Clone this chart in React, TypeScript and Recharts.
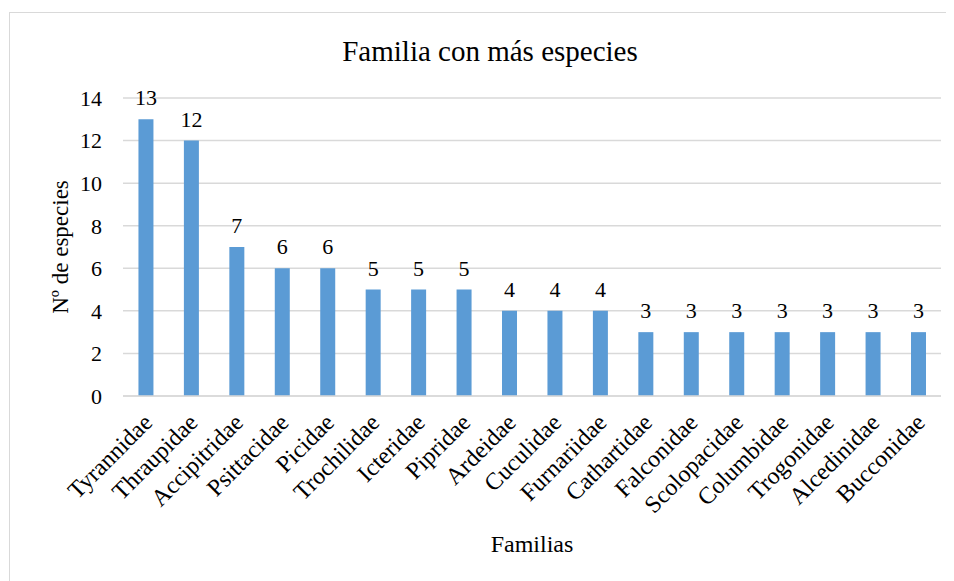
import { BarChart, Bar, XAxis, YAxis, CartesianGrid, LabelList } from "recharts";

const families = [
  "Tyrannidae",
  "Thraupidae",
  "Accipitridae",
  "Psittacidae",
  "Picidae",
  "Trochilidae",
  "Icteridae",
  "Pipridae",
  "Ardeidae",
  "Cuculidae",
  "Furnariidae",
  "Cathartidae",
  "Falconidae",
  "Scolopacidae",
  "Columbidae",
  "Trogonidae",
  "Alcedinidae",
  "Bucconidae",
];

const speciesCount = [13, 12, 7, 6, 6, 5, 5, 5, 4, 4, 4, 3, 3, 3, 3, 3, 3, 3];

const yTicks = [0, 2, 4, 6, 8, 10, 12, 14];

const data = families.map((name, i) => ({ name, value: speciesCount[i] }));

const FONT = '"Liberation Serif", "Times New Roman", serif';

function FamilyTick({ x, y, payload }: any) {
  return (
    <g transform={`translate(${x + 2},${y + 14})`}>
      <text
        x={0}
        y={0}
        dy="0.35em"
        textAnchor="end"
        transform="rotate(-45)"
        fontSize={24}
        fontFamily={FONT}
        fill="#000"
      >
        {payload.value}
      </text>
    </g>
  );
}

export default function App() {
  return (
    <div
      style={{
        position: "relative",
        marginTop: 4,
        marginLeft: 1,
        width: 944,
        height: 568,
        borderTop: "1px solid #d9d9d9",
        borderLeft: "1px solid #d9d9d9",
        fontFamily: FONT,
      }}
    >
      {/* force the serif face on every svg text recharts draws */}
      <style>{`svg text { font-family: "Liberation Serif", "Times New Roman", serif; }`}</style>
      <div
        style={{
          position: "absolute",
          left: 0,
          width: 960,
          top: 21,
          textAlign: "center",
          fontSize: 29,
          color: "#000",
          lineHeight: "34px",
        }}
      >
        Familia con más especies
      </div>
      <BarChart
        width={944}
        height={568}
        data={data}
        margin={{ top: 85, right: 13, bottom: 25, left: 0 }}
        barCategoryGap="34%"
      >
        <CartesianGrid vertical={false} stroke="#d9d9d9" strokeWidth={1.5} />
        <XAxis
          dataKey="name"
          interval={0}
          height={160}
          axisLine={{ stroke: "#d9d9d9", strokeWidth: 1.5 }}
          tickLine={false}
          tick={<FamilyTick />}
          label={{
            value: "Familias",
            position: "insideBottom",
            offset: 4,
            fontSize: 24,
            fill: "#000",
          }}
        />
        <YAxis
          width={113}
          domain={[0, 14]}
          ticks={yTicks}
          interval={0}
          axisLine={false}
          tickLine={false}
          tickMargin={15}
          tick={{ fontSize: 22, fill: "#000" }}
          label={{
            value: "Nº de especies",
            angle: -90,
            position: "insideLeft",
            offset: 50,
            fontSize: 23,
            fill: "#000",
            style: { textAnchor: "middle" },
          }}
        />
        <Bar dataKey="value" fill="#5b9bd5" isAnimationActive={false}>
          <LabelList
            dataKey="value"
            position="top"
            offset={14}
            fontSize={22}
            fill="#000"
          />
        </Bar>
      </BarChart>
    </div>
  );
}
